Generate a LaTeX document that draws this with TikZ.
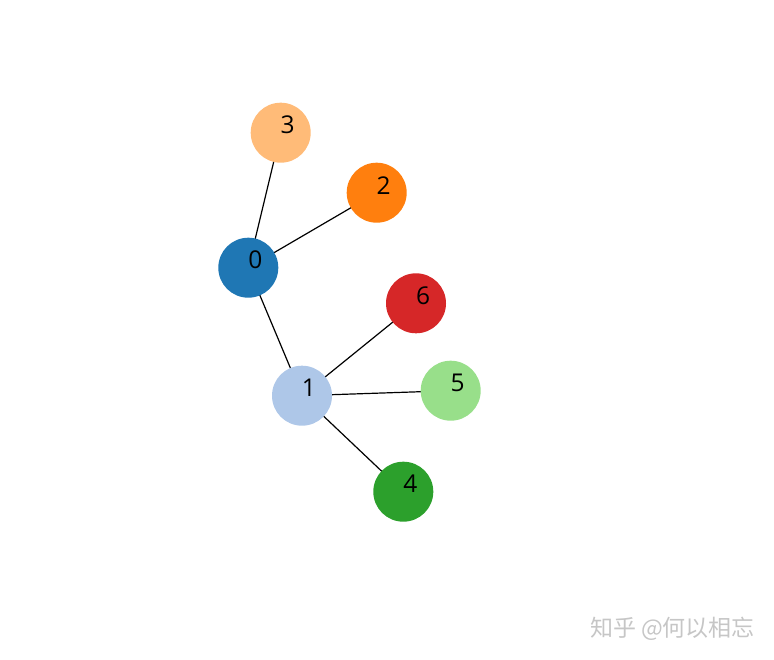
\documentclass[tikz,border=0pt]{standalone}
\usepackage{fontspec}
\setmainfont{Open Sans}
\newfontfamily\cjk{Noto Sans CJK SC}
\usetikzlibrary{backgrounds}
\definecolor{c0}{HTML}{1F77B4}
\definecolor{c1}{HTML}{AEC7E8}
\definecolor{c2}{HTML}{FF7F0E}
\definecolor{c3}{HTML}{FFBB78}
\definecolor{c4}{HTML}{2CA02C}
\definecolor{c5}{HTML}{98DF8A}
\definecolor{c6}{HTML}{D62728}
\begin{document}
\begin{tikzpicture}[x=1pt,y=-1pt,
  vtx/.style={circle,minimum size=60pt,inner sep=0pt,draw=none},
  lbl/.style={xshift=7pt,yshift=7.5pt,inner sep=0pt,font=\fontsize{24.5}{26}\selectfont,text=black},
  edge/.style={draw=black,line width=1.2pt}]
\useasboundingbox (0,0) rectangle (774,660);
\node[vtx,fill=c0,label={[lbl]center:0}] (n0) at (248.3,267.7) {};
\node[vtx,fill=c1,label={[lbl]center:1}] (n1) at (302,395.7) {};
\node[vtx,fill=c2,label={[lbl]center:2}] (n2) at (376.7,192.7) {};
\node[vtx,fill=c3,label={[lbl]center:3}] (n3) at (280.7,132.7) {};
\node[vtx,fill=c4,label={[lbl]center:4}] (n4) at (403.3,491.7) {};
\node[vtx,fill=c5,label={[lbl]center:5}] (n5) at (450.7,390.7) {};
\node[vtx,fill=c6,label={[lbl]center:6}] (n6) at (416,303.3) {};
\begin{scope}[on background layer]
\draw[edge] (n0.center) -- (n3.center);
\draw[edge] (n0.center) -- (n2.center);
\draw[edge] (n0.center) -- (n1.center);
\draw[edge] (n1.center) -- (n6.center);
\draw[edge] (n1.center) -- (n5.center);
\draw[edge] (n1.center) -- (n4.center);
\end{scope}
\node[inner sep=0pt,text=gray!45,font=\cjk\fontsize{23}{25}\selectfont] (wm) at (672.5,629) {知乎 @何以相忘};
\end{tikzpicture}
\end{document}
